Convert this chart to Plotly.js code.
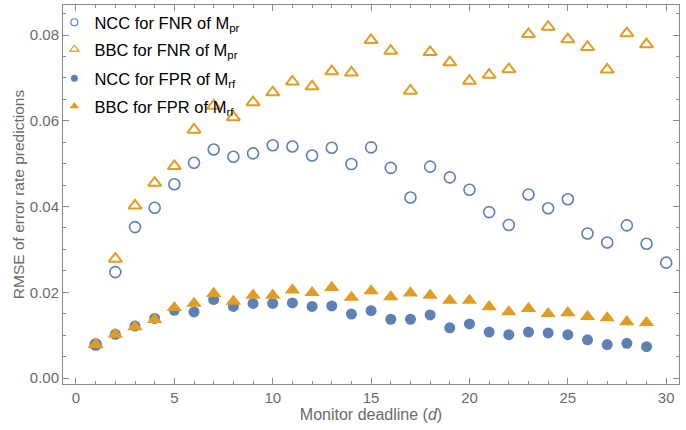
<!DOCTYPE html>
<html>
<head>
<meta charset="utf-8">
<script src="https://cdn.plot.ly/plotly-3.0.1.min.js"></script>
<style>
  html, body { margin: 0; padding: 0; background: #fff; }
  #chart { width: 686px; height: 430px; }
</style>
</head>
<body>
<div id="chart"></div>
<script>
// Monitor deadlines d = 1..30
const deadlines = [1,2,3,4,5,6,7,8,9,10,11,12,13,14,15,16,17,18,19,20,21,22,23,24,25,26,27,28,29,30];

// NCC for FNR of M_pr (hollow circles)
const nccFnrPr = [0.0078,0.0247,0.0352,0.0397,0.0452,0.0502,0.0533,0.0516,0.0524,0.0543,0.0540,0.0519,0.0537,0.0499,0.0538,0.0490,0.0421,0.0493,0.0468,0.0439,0.0387,0.0357,0.0428,0.0396,0.0417,0.0337,0.0316,0.0356,0.0313,0.0269];

// BBC for FNR of M_pr (hollow triangles)
const bbcFnrPr = [0.0078,0.0278,0.0402,0.0455,0.0494,0.0579,0.0635,0.0608,0.0643,0.0666,0.0691,0.0680,0.0715,0.0712,0.0788,0.0763,0.0670,0.0760,0.0736,0.0693,0.0707,0.0720,0.0802,0.0819,0.0790,0.0772,0.0719,0.0804,0.0778];

// NCC for FPR of M_rf (filled circles)
const nccFprRf = [0.0078,0.0102,0.0121,0.0139,0.0158,0.0154,0.0183,0.0167,0.0174,0.0174,0.0175,0.0167,0.0168,0.0149,0.0157,0.0137,0.0137,0.0147,0.0117,0.0126,0.0107,0.0101,0.0107,0.0105,0.0101,0.0089,0.0078,0.0081,0.0073];

// BBC for FPR of M_rf (filled triangles)
const bbcFprRf = [0.0078,0.0102,0.0119,0.0136,0.0164,0.0174,0.0197,0.0179,0.0193,0.0193,0.0205,0.0199,0.0211,0.0188,0.0203,0.0189,0.0198,0.0193,0.0181,0.0181,0.0166,0.0154,0.0162,0.0150,0.0152,0.0143,0.0140,0.0131,0.0129];

const seriesNames = [
  'NCC for FNR of M<sub>pr</sub>',
  'BBC for FNR of M<sub>pr</sub>',
  'NCC for FPR of M<sub>rf</sub>',
  'BBC for FPR of M<sub>rf</sub>'
];

const BLUE = '#5e81b5';
const ORANGE = '#e19c24';

const styles = [
  { symbol: 'circle-open',      size: 11,   color: BLUE,   line: { color: BLUE,   width: 1.6 }, legendSize: 7 },
  { symbol: 'triangle-up-open', size: 11.5, color: ORANGE, line: { color: ORANGE, width: 2 },   legendSize: 8 },
  { symbol: 'circle',           size: 11,   color: BLUE,   line: { width: 0 },                  legendSize: 7 },
  { symbol: 'triangle-up',      size: 13.5, color: ORANGE, line: { width: 0 },                  legendSize: 8.5 }
];

const values = [nccFnrPr, bbcFnrPr, nccFprRf, bbcFprRf];
const legendIds = ['legend', 'legend2', 'legend3', 'legend4'];

const traces = [];
values.forEach((ys, i) => {
  const st = styles[i];
  traces.push({
    type: 'scatter',
    mode: 'markers',
    x: deadlines.slice(0, ys.length),
    y: ys,
    name: seriesNames[i],
    showlegend: false,
    hoverinfo: 'x+y',
    marker: { symbol: st.symbol, size: st.size, color: st.color, line: st.line }
  });
});
// Small legend swatches, one legend box per series so the rows sit evenly
values.forEach((ys, i) => {
  const st = styles[i];
  traces.push({
    type: 'scatter',
    mode: 'markers',
    x: [null],
    y: [null],
    name: seriesNames[i],
    legend: legendIds[i],
    showlegend: true,
    marker: { symbol: st.symbol, size: st.legendSize, color: st.color,
              line: st.line.width ? { color: st.color, width: 1.2 } : { width: 0 } }
  });
});

const FONT = 'Liberation Sans, Arial, Helvetica, sans-serif';
const GRAY = '#6b6b6b';
const FRAME = '#8a8a8a';

const axisCommon = {
  showgrid: false,
  zeroline: false,
  showline: true,
  linecolor: FRAME,
  linewidth: 1,
  mirror: 'allticks',
  ticks: 'inside',
  ticklen: 6,
  tickwidth: 1,
  tickcolor: FRAME,
  tickfont: { family: FONT, size: 15, color: GRAY }
};

// Legend row tops in paper coordinates
const legendRowsY = [1.0, 0.9288, 0.8522, 0.7784];
function legendBox(y) {
  return {
    x: -0.014,
    xanchor: 'left',
    y: y,
    yanchor: 'top',
    bgcolor: 'rgba(0,0,0,0)',
    borderwidth: 0,
    font: { family: FONT, size: 16.5, color: '#000000' }
  };
}

const layout = {
  width: 686,
  height: 430,
  margin: { l: 63, r: 7, t: 5, b: 46 },
  paper_bgcolor: '#ffffff',
  plot_bgcolor: '#ffffff',
  font: { family: FONT, color: GRAY },
  xaxis: Object.assign({}, axisCommon, {
    range: [-0.66, 30.65],
    tick0: 0,
    dtick: 5,
    minor: { dtick: 1, ticks: 'inside', ticklen: 3, tickcolor: FRAME, showgrid: false },
    title: { text: 'Monitor deadline (<i>d</i>)', font: { family: FONT, size: 16, color: GRAY }, standoff: 1 }
  }),
  yaxis: Object.assign({}, axisCommon, {
    range: [-0.0014, 0.087],
    tick0: 0,
    dtick: 0.02,
    tickformat: '.2f',
    minor: { dtick: 0.005, ticks: 'inside', ticklen: 3, tickcolor: FRAME, showgrid: false },
    title: { text: 'RMSE of error rate predictions', font: { family: FONT, size: 15.5, color: GRAY }, standoff: 1 }
  }),
  legend: legendBox(legendRowsY[0]),
  legend2: legendBox(legendRowsY[1]),
  legend3: legendBox(legendRowsY[2]),
  legend4: legendBox(legendRowsY[3]),
  showlegend: true
};

Plotly.newPlot('chart', traces, layout, { displayModeBar: false, staticPlot: true });
</script>
</body>
</html>
